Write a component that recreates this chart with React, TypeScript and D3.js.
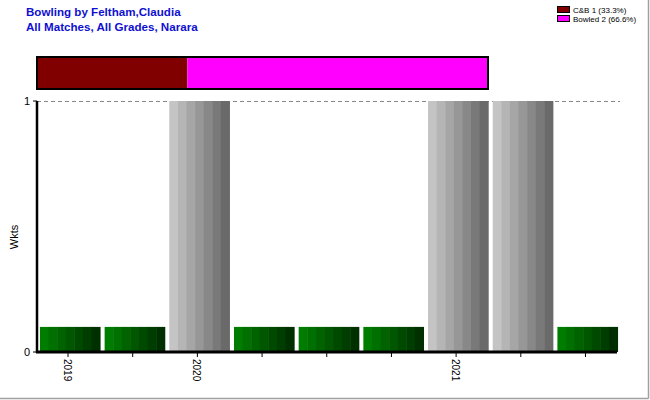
import React from "react";
import * as d3 from "d3";

const titleLines = ["Bowling by Feltham,Claudia", "All Matches, All Grades, Narara"];
const categories = ["2019", "", "2020", "", "", "", "2021", "", ""];
const wickets = [0, 0, 1, 0, 0, 0, 1, 1, 0];
const yTicks = [0, 1];
const dismissalNames = ["C&B", "Bowled"];
const dismissalCounts = [1, 2];
const dismissalColors = ["#800000", "#ff00ff"];

const W = 650, H = 400;
const plotL = 37, plotR = 620, plotT = 101, plotB = 352;

export default function App() {
  React.useEffect(() => { document.body.style.margin = "0"; }, []);
  const x = d3.scaleBand<number>().domain(d3.range(categories.length)).range([38, 619.5]).paddingInner(0.07).paddingOuter(0.03);
  const y = d3.scaleLinear().domain([0, 1]).range([plotB, plotT]);
  const total = d3.sum(dismissalCounts);
  const xs = d3.scaleLinear().domain([0, total]).range([37, 488]);
  const cum = [0, ...d3.cumsum(dismissalCounts)];
  const nStripes = 7;
  const greenI = d3.interpolateRgb("#007d00", "#003000");
  const grayI = d3.interpolateRgb("#c4c4c4", "#6a6a6a");
  const font = "Arial, 'Liberation Sans', sans-serif";
  const pct = (c: number) => (Math.floor((c / total) * 1000) / 10).toFixed(1);
  return (
    <svg width={W} height={H} style={{ display: "block", position: "absolute", left: 0, top: 0 }} fontFamily={font}>
      <rect x={0} y={0} width={W} height={H} fill="#fff" />
      <line x1={648.5} y1={0} x2={648.5} y2={398.5} stroke="#a0a0a0" strokeWidth={1.5} />
      <line x1={0} y1={398.5} x2={648.5} y2={398.5} stroke="#a0a0a0" strokeWidth={1.5} />
      {titleLines.map((t, i) => (
        <text key={i} x={26} y={16 + i * 14.5} fill="#1010d0" fontSize={11.6} fontWeight="bold">{t}</text>
      ))}
      {dismissalNames.map((n, i) => (
        <g key={n}>
          <rect x={557.5} y={6.5 + i * 9} width={12} height={6} fill={dismissalColors[i]} stroke="#000" strokeWidth={1} />
          <text x={573} y={12.5 + i * 9} fontSize={8} fill="#000">{`${n} ${dismissalCounts[i]} (${pct(dismissalCounts[i])}%)`}</text>
        </g>
      ))}
      {dismissalCounts.map((c, i) => (
        <rect key={i} x={xs(cum[i])} y={57} width={xs(cum[i + 1]) - xs(cum[i])} height={32} fill={dismissalColors[i]} />
      ))}
      <rect x={37} y={57} width={xs(total) - 37} height={32} fill="none" stroke="#000" strokeWidth={2} />
      <line x1={plotL} x2={plotR} y1={y(1) + 0.5} y2={y(1) + 0.5} stroke="#888" strokeDasharray="4,3" />
      {wickets.map((w, i) => {
        const v = w > 0 ? w : 0.1;
        const bx = x(i)!, bw = x.bandwidth();
        const sw = bw / nStripes;
        const interp = w > 0 ? grayI : greenI;
        return (
          <g key={i}>
            {d3.range(nStripes).map((s) => (
              <rect key={s} x={bx + s * sw} y={y(v)} width={sw + 0.5} height={y(0) - y(v)} fill={interp(s / (nStripes - 1))} />
            ))}
          </g>
        );
      })}
      <line x1={plotL} x2={plotL} y1={plotT} y2={plotB + 1} stroke="#000" strokeWidth={2.5} />
      <line x1={plotL - 1} x2={617} y1={plotB} y2={plotB} stroke="#000" strokeWidth={3} />
      {yTicks.map((t) => (
        <g key={t}>
          <line x1={plotL - 4} x2={plotL} y1={y(t)} y2={y(t)} stroke="#000" />
          <text x={plotL - 7} y={y(t) + 4} fontSize={11} textAnchor="end">{t}</text>
        </g>
      ))}
      <text transform={`translate(18,237) rotate(-90)`} fontSize={11} textAnchor="middle">Wkts</text>
      {categories.map((c, i) => {
        const cx = x(i)! + x.bandwidth() / 2 - 2;
        return (
          <g key={i}>
            <line x1={cx} x2={cx} y1={plotB + 1} y2={plotB + 5} stroke="#000" />
            {c && <text transform={`translate(${cx - 4},${plotB + 7}) rotate(90)`} fontSize={10}>{c}</text>}
          </g>
        );
      })}
    </svg>
  );
}
